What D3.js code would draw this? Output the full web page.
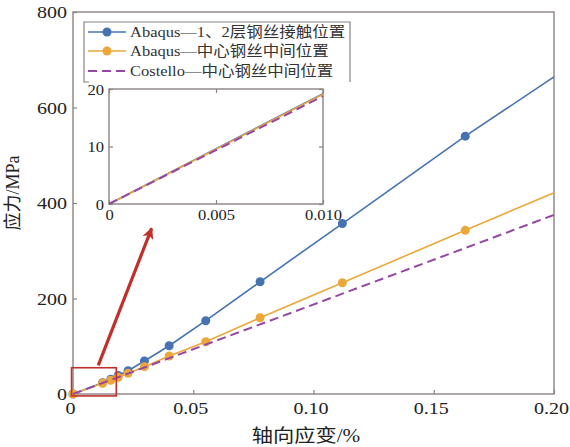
<!DOCTYPE html>
<html>
<head>
<meta charset="utf-8">
<script src="https://cdn.jsdelivr.net/npm/d3@7"></script>
<style>
  html, body { margin: 0; padding: 0; background: #fff; }
  svg { display: block; }
  text { font-family: "Liberation Serif", "Noto Sans CJK SC", serif; fill: #222; }
</style>
</head>
<body>
<svg id="chart" width="570" height="447"></svg>
<script>
// ---- data ----
const abaqusStrain   = [0, 0.0123, 0.0157, 0.0188, 0.0229, 0.0297, 0.0400, 0.0552, 0.0778, 0.1120, 0.1631, 0.2000];
const contactStress  = [0, 23.5, 31, 39, 48.8, 69, 101, 153.5, 235, 357, 540, 664];   // Abaqus, layer 1/2 contact
const centerStress   = [0, 22.4, 28.7, 35, 43.3, 57.2, 79.6, 109.5, 159.8, 233, 342.8, 421.6]; // Abaqus, centre wire
const costelloStrain = [0, 0.2];
const costelloStress = [0, 375];

// zoomed window near the origin
const insetStrain        = [0, 0.01];
const insetContactStress = [0, 19.2];
const insetCenterStress  = [0, 19.1];
const insetCostelloStress= [0, 18.75];

const xTicks = [0, 0.05, 0.10, 0.15, 0.20];
const xTickLabels = ["0", "0.05", "0.10", "0.15", "0.20"];
const yTicks = [0, 200, 400, 600, 800];
const insetXTicks = [0, 0.005, 0.010];
const insetXTickLabels = ["0", "0.005", "0.010"];
const insetYTicks = [0, 10, 20];

// highlighted region and pointer (data units)
const zoomBox = { x0: -0.0006, x1: 0.018, y0: -4, y1: 55 };
const pointer = { from: [0.0105, 60], to: [0.0327, 347] };

const seriesNames = ["Abaqus—1、2层钢丝接触位置", "Abaqus—中心钢丝中间位置", "Costello—中心钢丝中间位置"];

// ---- styles ----
const BLUE = "#4672b2", ORANGE = "#eca73a", PURPLE = "#9647a3", AXIS = "#8a8482", RED = "#c0302b";
const SX = 1.18; // horizontal text stretch

const svg = d3.select("#chart");
const x = d3.scaleLinear([0, 0.2], [73, 554]);
const y = d3.scaleLinear([0, 800], [394, 12]);

const zip = (xs, ys) => xs.map((v, i) => [v, ys[i]]);

// ---- main frame ----
const frame = svg.append("g");
frame.append("rect")
  .attr("x", x(0)).attr("y", y(800))
  .attr("width", x(0.2) - x(0)).attr("height", y(0) - y(800))
  .attr("fill", "none").attr("stroke", AXIS).attr("stroke-width", 1.4);

const xAxis = svg.append("g").attr("transform", `translate(0,${y(0)})`)
  .call(d3.axisBottom(x).tickValues(xTicks).tickFormat((d, i) => xTickLabels[i]).tickSizeInner(-4).tickSizeOuter(0));
xAxis.select(".domain").remove();
xAxis.selectAll("line").attr("stroke", AXIS).attr("stroke-width", 1.2);
xAxis.selectAll("text")
  .attr("y", null).attr("dy", null)
  .attr("transform", `translate(-3,20) scale(${SX},1)`)
  .attr("text-anchor", "middle")
  .style("font-size", "17px").style("fill", "#222");

const yAxis = svg.append("g").attr("transform", `translate(${x(0)},0)`)
  .call(d3.axisLeft(y).tickValues(yTicks).tickFormat(d3.format("d")).tickSizeInner(-4).tickSizeOuter(0));
yAxis.select(".domain").remove();
yAxis.selectAll("line").attr("stroke", AXIS).attr("stroke-width", 1.2);
yAxis.selectAll("text")
  .attr("x", null).attr("dy", "0.35em")
  .attr("transform", `translate(-6,0) scale(${SX},1)`)
  .attr("text-anchor", "end")
  .style("font-size", "17px").style("fill", "#222");

// axis titles
svg.append("text")
  .attr("transform", `translate(306,442) scale(${SX},1)`)
  .attr("text-anchor", "middle").style("font-size", "18px")
  .text("轴向应变/%");
svg.append("text")
  .attr("transform", `translate(19,193) rotate(-90)`)
  .attr("text-anchor", "middle").style("font-size", "18px")
  .text("应力/MPa");

// ---- main series ----
const line = d3.line().x(d => x(d[0])).y(d => y(d[1]));
const plot = svg.append("g");

function drawSeries(g, pts, color, dashed, withMarkers, ln, xs, ys) {
  g.append("path").datum(pts)
    .attr("d", ln).attr("fill", "none")
    .attr("stroke", color).attr("stroke-width", dashed ? 2 : 1.6)
    .attr("stroke-dasharray", dashed ? "9,5" : null);
  if (withMarkers) {
    // the final entry is where the curve meets the frame edge; it carries no marker
    g.selectAll(null).data(pts.slice(0, -1)).enter().append("circle")
      .attr("cx", d => xs(d[0])).attr("cy", d => ys(d[1])).attr("r", 4.5)
      .attr("fill", color);
  }
}

drawSeries(plot, zip(abaqusStrain, contactStress), BLUE, false, true, line, x, y);
drawSeries(plot, zip(abaqusStrain, centerStress), ORANGE, false, true, line, x, y);
drawSeries(plot, zip(costelloStrain, costelloStress), PURPLE, true, false, line, x, y);

// highlighted region near the origin
svg.append("rect")
  .attr("x", x(zoomBox.x0)).attr("y", y(zoomBox.y1))
  .attr("width", x(zoomBox.x1) - x(zoomBox.x0))
  .attr("height", y(zoomBox.y0) - y(zoomBox.y1))
  .attr("fill", "none").attr("stroke", RED).attr("stroke-width", 1.6);

// pointer arrow
const defs = svg.append("defs");
defs.append("marker").attr("id", "arrowHead")
  .attr("viewBox", "0 0 10 10").attr("refX", 9).attr("refY", 5)
  .attr("markerWidth", 4.4).attr("markerHeight", 3.6)
  .attr("markerUnits", "strokeWidth").attr("orient", "auto")
  .append("path").attr("d", "M0,0 L10,5 L0,10 L2.5,5 Z").attr("fill", RED);
svg.append("line")
  .attr("x1", x(pointer.from[0])).attr("y1", y(pointer.from[1]))
  .attr("x2", x(pointer.to[0])).attr("y2", y(pointer.to[1]))
  .attr("stroke", RED).attr("stroke-width", 3.2)
  .attr("marker-end", "url(#arrowHead)");

// ---- legend ----
const lg = svg.append("g");
const lgL = 84, lgR = 350, lgT = 22, lgB = 82;
lg.append("rect").attr("x", lgL).attr("y", lgT).attr("width", lgR - lgL).attr("height", lgB - lgT)
  .attr("fill", "#fff");
lg.append("path")
  .attr("d", `M${lgL + 5},${lgB} H${lgL} V${lgT} H${lgR} V${lgB}`)
  .attr("fill", "none").attr("stroke", AXIS).attr("stroke-width", 1.2);
const lgColors = [BLUE, ORANGE, PURPLE];
const lgRows = [32, 51, 71];
seriesNames.forEach((name, i) => {
  const yy = lgRows[i];
  lg.append("line").attr("x1", 88).attr("x2", 126).attr("y1", yy).attr("y2", yy)
    .attr("stroke", lgColors[i]).attr("stroke-width", i === 2 ? 2 : 1.6)
    .attr("stroke-dasharray", i === 2 ? "9,5" : null);
  if (i < 2) lg.append("circle").attr("cx", 107).attr("cy", yy).attr("r", 4.5).attr("fill", lgColors[i]);
  lg.append("text")
    .attr("transform", `translate(130,${yy + 5}) scale(1.1,1)`)
    .style("font-size", "15px").style("fill", "#333").text(name);
});

// ---- inset ----
const xi = d3.scaleLinear([0, 0.01], [109, 323]);
const yi = d3.scaleLinear([0, 20], [204, 89]);
const inset = svg.append("g");
inset.append("rect")
  .attr("x", xi(0)).attr("y", yi(20))
  .attr("width", xi(0.01) - xi(0)).attr("height", yi(0) - yi(20))
  .attr("fill", "#fff").attr("stroke", AXIS).attr("stroke-width", 1.4);

const ixAxis = inset.append("g").attr("transform", `translate(0,${yi(0)})`)
  .call(d3.axisBottom(xi).tickValues(insetXTicks).tickFormat((d, i) => insetXTickLabels[i]).tickSizeInner(-4).tickSizeOuter(0));
const ixTop = inset.append("g").attr("transform", `translate(0,${yi(20)})`)
  .call(d3.axisTop(xi).tickValues(insetXTicks).tickFormat("").tickSizeInner(-4).tickSizeOuter(0));
const iyAxis = inset.append("g").attr("transform", `translate(${xi(0)},0)`)
  .call(d3.axisLeft(yi).tickValues(insetYTicks).tickFormat(d3.format("d")).tickSizeInner(-4).tickSizeOuter(0));
const iyRight = inset.append("g").attr("transform", `translate(${xi(0.01)},0)`)
  .call(d3.axisRight(yi).tickValues(insetYTicks).tickFormat("").tickSizeInner(-4).tickSizeOuter(0));
[ixAxis, ixTop, iyAxis, iyRight].forEach(a => {
  a.select(".domain").remove();
  a.selectAll("line").attr("stroke", AXIS).attr("stroke-width", 1.2);
});
ixAxis.selectAll("text")
  .attr("y", null).attr("dy", null)
  .attr("transform", `translate(0,16) scale(1.1,1)`)
  .attr("text-anchor", "middle").style("font-size", "15px").style("fill", "#222");
iyAxis.selectAll("text")
  .attr("x", null).attr("dy", "0.35em")
  .attr("transform", `translate(-5,0) scale(1.1,1)`)
  .attr("text-anchor", "end").style("font-size", "15px").style("fill", "#222");

const lineI = d3.line().x(d => xi(d[0])).y(d => yi(d[1]));
drawSeries(inset, zip(insetStrain, insetContactStress), BLUE, false, false, lineI, xi, yi);
drawSeries(inset, zip(insetStrain, insetCenterStress), ORANGE, false, false, lineI, xi, yi);
drawSeries(inset, zip(insetStrain, insetCostelloStress), PURPLE, true, false, lineI, xi, yi);
</script>
</body>
</html>
